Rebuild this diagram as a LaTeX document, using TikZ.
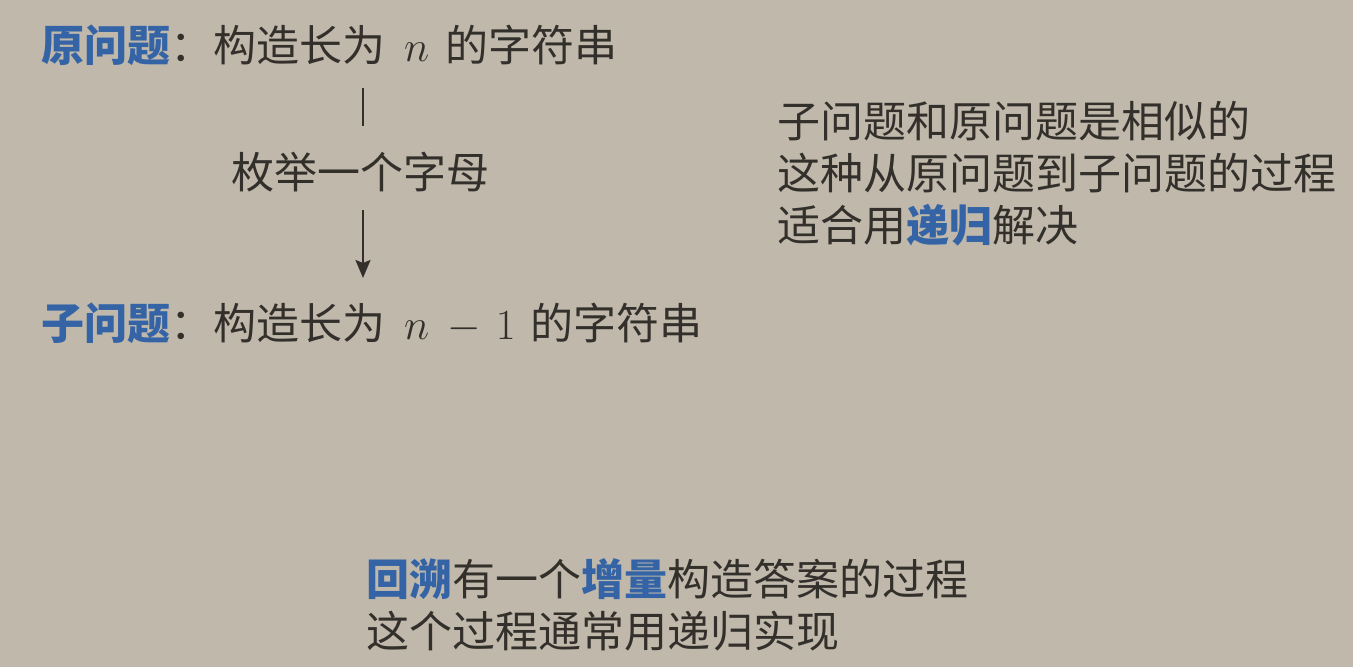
\RequirePackage{fix-cm}
\documentclass[tikz,border=0pt]{standalone}
\usepackage{fontspec}
\setmainfont{Noto Sans CJK SC}
\newfontfamily\cjk{Noto Sans CJK SC}
\usetikzlibrary{arrows.meta}
\definecolor{bgc}{HTML}{BFB8AB}
\definecolor{txt}{HTML}{33302C}
\definecolor{hl}{HTML}{3464A6}
\tikzset{
  line/.style={anchor=base west, inner sep=0pt, text=txt, font=\cjk\fontsize{43}{52}\selectfont},
  conn/.style={draw=txt, line width=2pt},
}
\newcommand{\hb}[1]{\textcolor{hl}{\bfseries #1}}
\begin{document}
\begin{tikzpicture}[x=1pt,y=-1pt]
\fill[bgc] (0,0) rectangle (1353,667);
\useasboundingbox (0,0) rectangle (1353,667);
% left flow
\node[line] (q1) at (41,61) {\hb{原问题}：构造长为\hspace{19pt}$n$\hspace{16pt}的字符串};
\node[line] (enum) at (231,188) {枚举一个字母};
\node[line] (q2) at (41,339) {\hb{子问题}：构造长为\hspace{19pt}$n$\hspace{18pt}${-}$\hspace{15pt}$1$\hspace{15pt}的字符串};
\coordinate (c1) at (363,88);
\coordinate (c2) at (363,126);
\coordinate (c3) at (363,210);
\coordinate (c4) at (363,278);
\draw[conn] (c1) -- (c2);
\draw[conn, -{Stealth[length=18pt,width=15pt,inset=3pt]}] (c3) -- (c4);
% right note
\node[line] (r1) at (777,137) {子问题和原问题是相似的};
\node[line] (r2) at (777,189) {这种从原问题到子问题的过程};
\node[line] (r3) at (777,241) {适合用\hb{递归}解决};
% bottom note
\node[line] (b1) at (366,595) {\hb{回溯}有一个\hb{增量}构造答案的过程};
\node[line] (b2) at (366,647) {这个过程通常用递归实现};
\end{tikzpicture}
\end{document}
